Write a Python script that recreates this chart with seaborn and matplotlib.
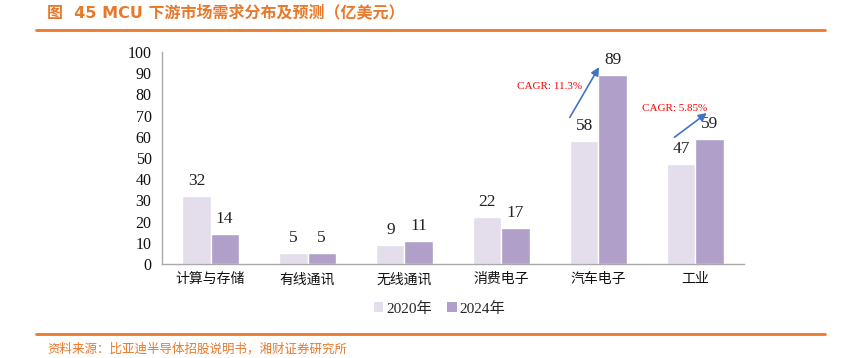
import pandas as pd
import matplotlib.pyplot as plt
import seaborn as sns
from matplotlib.patches import Patch

# Chart data
categories = ["计算与存储", "有线通讯", "无线通讯", "消费电子", "汽车电子", "工业"]
years = ["2020年", "2024年"]
values_2020 = [32, 5, 9, 22, 58, 47]
values_2024 = [14, 5, 11, 17, 89, 59]
cagr_labels = ["CAGR: 11.3%", "CAGR: 5.85%"]

colors = ["#E4DDEC", "#B09FC8"]
orange = "#E8782A"
fonts = ["Liberation Serif", "Noto Sans CJK SC"]

df = pd.DataFrame({
    "category": categories * 2,
    "year": [years[0]] * len(categories) + [years[1]] * len(categories),
    "value": values_2020 + values_2024,
})

sns.set_style("white")
plt.rcParams["font.family"] = fonts

fig = plt.figure(figsize=(8.59, 3.58), dpi=100)
ax = fig.add_axes([0.1886, 0.2626, 0.6775, 0.5921])

sns.barplot(data=df, x="category", y="value", hue="year", palette=colors,
            width=0.58, ax=ax, legend=False, saturation=1)

for container in ax.containers:
    ax.bar_label(container, fmt="%d", padding=5, fontsize=12.5, color="#222222",
                 family="Liberation Serif")

ax.set_ylim(0, 100)
ax.set_xlim(-0.5, len(categories) - 0.5)
ax.set_yticks(range(0, 101, 10))
ax.set_xlabel("")
ax.set_ylabel("")
ax.tick_params(axis="y", labelsize=11.5, length=4, color="#999999", labelcolor="#111111")
ax.tick_params(axis="x", labelsize=10, length=0, pad=6, labelcolor="#111111")
ax.set_xticks(range(len(categories)), categories, family="Noto Sans CJK SC")
ax.set_xticks([i + 0.5 for i in range(-1, len(categories))], minor=True)
ax.tick_params(axis="x", which="minor", length=4, color="#999999")
for side in ["top", "right"]:
    ax.spines[side].set_visible(False)
for side in ["left", "bottom"]:
    ax.spines[side].set_color("#AAAAAA")
    ax.spines[side].set_linewidth(1)

# CAGR arrows
arrow_style = dict(arrowstyle="-|>", color="#4472C4", lw=1.2, mutation_scale=12)
ax.annotate("", xy=(4.02, 94), xytext=(3.69, 68), arrowprops=arrow_style)
ax.annotate("", xy=(5.14, 72), xytext=(4.76, 59), arrowprops=arrow_style)
ax.text(3.5, 83.5, cagr_labels[0], color="#FF0000", fontsize=8, ha="center",
        va="center", family="Liberation Serif")
ax.text(4.78, 73.5, cagr_labels[1], color="#FF0000", fontsize=8, ha="center",
        va="center", family="Liberation Serif")

# Legend
handles = [Patch(facecolor=c, edgecolor="none") for c in colors]
fig.legend(handles, years, loc="center", bbox_to_anchor=(0.512, 0.138), ncol=2,
           frameon=False, fontsize=11, handlelength=0.6, handleheight=0.6,
           handletextpad=0.2, columnspacing=1.0)

# Title, rules and source
fig.text(0.055, 0.965, "图  45 MCU 下游市场需求分布及预测（亿美元）", color=orange,
         fontsize=11.5, fontweight="bold", va="center", ha="left",
         family=["DejaVu Sans", "Noto Sans CJK SC"])
fig.add_artist(plt.Line2D([0.042, 0.96], [0.916, 0.916], color=orange, lw=2))
fig.add_artist(plt.Line2D([0.042, 0.96], [0.067, 0.067], color=orange, lw=2))
fig.text(0.055, 0.024, "资料来源：比亚迪半导体招股说明书，湘财证券研究所", color=orange,
         fontsize=9, va="center", ha="left", family="Noto Sans CJK SC")

plt.savefig("out.png", dpi=100)
